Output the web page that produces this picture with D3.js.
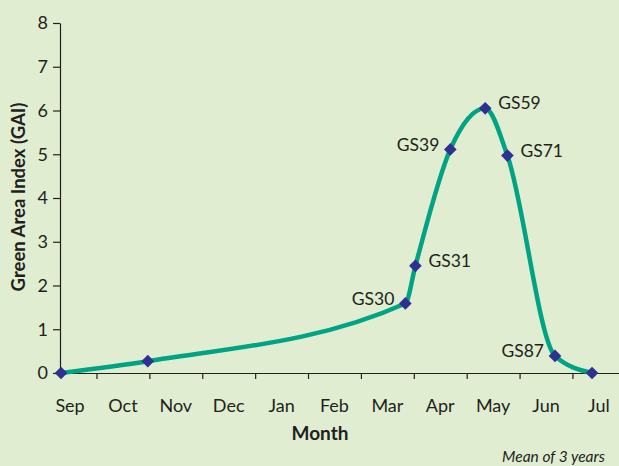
<!DOCTYPE html>
<html>
<head>
<meta charset="utf-8">
<script src="https://cdn.jsdelivr.net/npm/d3@7"></script>
<style>
  body { margin: 0; background: #e0edd0; }
  svg { display: block; font-family: Lato, "Open Sans", sans-serif; }
</style>
</head>
<body>
<div class="graphContainer"></div>
<script>
const w = 619;
const h = 466;

// month labels along the x axis (month index 0 = Sep)
const months = ["Sep", "Oct", "Nov", "Dec", "Jan", "Feb", "Mar", "Apr", "May", "Jun", "Jul"];
const yTicks = [0, 1, 2, 3, 4, 5, 6, 7, 8];

// GAI readings, time in months since start of Sep
const when = [0.33, 1.97, 6.84, 7.03, 7.69, 8.35, 8.77, 9.67, 10.37];
const gai = [0, 0.27, 1.59, 2.45, 5.11, 6.05, 4.97, 0.39, 0];
const stage = ["", "", "GS30", "GS31", "GS39", "GS59", "GS71", "GS87", ""];
// which side the growth stage label sits on
const side = ["", "", "left", "right", "left", "right", "right", "left", ""];

const ink = "#231f20";

const svg = d3.select(".graphContainer").append("svg")
  .attr("width", w)
  .attr("height", h);

const x = d3.scaleLinear().domain([0.31, 10.88]).range([60, 619]);
const y = d3.scaleLinear().domain([0, 8]).range([373, 23]);

// x axis: ticks at month boundaries, labels centred in each month
svg.append("g")
  .attr("transform", "translate(0,373)")
  .call(d3.axisBottom(x).tickValues(d3.range(1, 11)).tickFormat("").tickSize(6).tickSizeOuter(0))
  .call(g => g.selectAll("path, line").attr("stroke", ink).attr("stroke-width", 1.2));

svg.append("g")
  .selectAll("text")
  .data(months)
  .enter()
  .append("text")
  .attr("x", (d, i) => x(i + 0.5))
  .attr("y", 412)
  .attr("text-anchor", "middle")
  .attr("font-size", 18)
  .attr("fill", ink)
  .text(d => d);

// y axis
svg.append("g")
  .attr("transform", "translate(60,0)")
  .call(d3.axisLeft(y).tickValues(yTicks).tickSize(7).tickSizeOuter(0).tickPadding(5))
  .call(g => g.selectAll("path, line").attr("stroke", ink).attr("stroke-width", 1.2))
  .call(g => g.selectAll("text").attr("font-size", 18).attr("fill", ink).attr("font-family", "Lato, sans-serif"));

// axis titles
svg.append("text")
  .attr("transform", "translate(25,197) rotate(-90)")
  .attr("text-anchor", "middle")
  .attr("font-size", 18.5)
  .attr("font-weight", "bold")
  .attr("fill", ink)
  .text("Green Area Index (GAI)");

svg.append("text")
  .attr("x", 320)
  .attr("y", 440)
  .attr("text-anchor", "middle")
  .attr("font-size", 19)
  .attr("font-weight", "bold")
  .attr("fill", ink)
  .text("Month");

svg.append("text")
  .attr("x", 605)
  .attr("y", 462)
  .attr("text-anchor", "end")
  .attr("font-size", 15.5)
  .attr("font-style", "italic")
  .attr("fill", ink)
  .text("Mean of 3 years");

// smoothed line
const pts = when.map((m, i) => [m, gai[i]]);
const line = d3.line()
  .x(d => x(d[0]))
  .y(d => y(d[1]))
  .curve(d3.curveMonotoneX);

svg.append("path")
  .datum(pts)
  .attr("fill", "none")
  .attr("stroke", "#00a383")
  .attr("stroke-width", 4.5)
  .attr("d", line);

// diamond markers (rotated squares)
svg.append("g")
  .selectAll("path")
  .data(pts)
  .enter()
  .append("path")
  .attr("d", d3.symbol(d3.symbolSquare, 80))
  .attr("transform", d => `translate(${x(d[0])},${y(d[1])}) rotate(45)`)
  .attr("fill", "#2e3192");

// growth stage labels
const labelled = pts.map((d, i) => ({ p: d, s: stage[i], side: side[i] })).filter(d => d.s !== "");
svg.append("g")
  .selectAll("text")
  .data(labelled)
  .enter()
  .append("text")
  .attr("x", d => d.side === "left" ? x(d.p[0]) - 11 : x(d.p[0]) + 13)
  .attr("y", d => y(d.p[1]) - 5)
  .attr("dy", "0.35em")
  .attr("text-anchor", d => d.side === "left" ? "end" : "start")
  .attr("font-size", 17.5)
  .attr("fill", ink)
  .text(d => d.s);
</script>
</body>
</html>
